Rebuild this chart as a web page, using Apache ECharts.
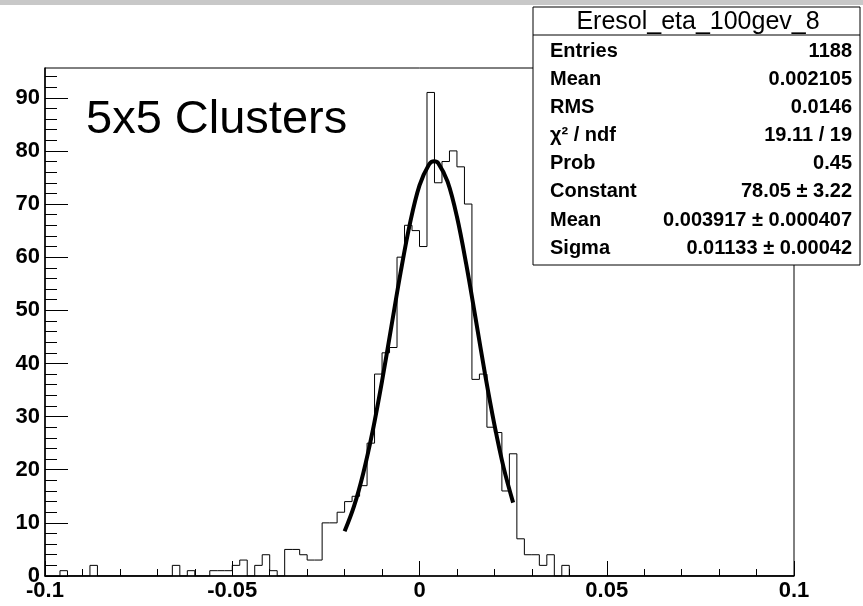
<!DOCTYPE html>
<html><head><meta charset="utf-8">
<script src="https://cdn.jsdelivr.net/npm/echarts@6/dist/echarts.min.js"></script>
<style>html,body{margin:0;padding:0;background:#fff}#c{width:863px;height:606px}</style>
</head><body><div id="c"></div>
<script>
// ---- data ----
const binLow = -0.1;
const binWidth = 0.002;
const counts = [
  0,0,1,0,0,0,2,0,0,0,
  0,0,0,0,0,0,0,2,0,1,
  0,0,1,1,1,2,3,0,2,4,
  1,0,5,5,4,3,3,10,10,12,
  14,15,17,25,38,42,43,60,66,65,
  62,91,74,78,80,77,70,37,38,28,
  27,16,23,7,4,4,2,4,0,2,
  0,0,0,0,0,0,0,0,0,0,
  0,0,0,0,0,0,0,0,0,0,
  0,0,0,0,0,0,0,0,0,0
];
const fitX = [-0.02,-0.0175,-0.015,-0.0125,-0.01,-0.0075,-0.005,-0.0025,0,0.0025,0.0039,0.005,0.0075,0.01,0.0125,0.015,0.0175,0.02,0.0225,0.025];
const fitY = [8.4,13.1,19.4,27.3,36.7,47.0,57.3,66.5,73.5,77.4,78.05,77.7,74.2,67.6,58.6,48.4,38.0,28.5,20.3,13.8];
const xTicks = [-0.1,-0.05,0,0.05,0.1];
const yMajor = [0,10,20,30,40,50,60,70,80,90];
const yMinor = [0,2,4,6,8,10,12,14,16,18,20,22,24,26,28,30,32,34,36,38,40,42,44,46,48,50,52,54,56,58,60,62,64,66,68,70,72,74,76,78,80,82,84,86,88,90,92,94];
const plotTitle = '5x5 Clusters';
const statsTitle = 'Eresol_eta_100gev_8';
const statsLabels = ['Entries','Mean','RMS','\u03c7\u00b2 / ndf','Prob','Constant','Mean','Sigma'];
const statsValues = ['1188','0.002105','0.0146','19.11 / 19','0.45','78.05 \u00b1 3.22','0.003917 \u00b1 0.000407','0.01133 \u00b1 0.00042'];

// ---- build ----
const stepPts = [];
counts.forEach((c, i) => {
  const lo = binLow + i * binWidth, hi = binLow + (i + 1) * binWidth;
  stepPts.push([lo, c], [hi, c]);
});
const fitPts = fitX.map((x, i) => [x, fitY[i]]);

const FONT = '"Liberation Sans", Arial, Helvetica, sans-serif';
const statsLeft = 533, statsTop = 7, statsW = 327, statsH = 258;
const statsGraphics = [
  {type:'rect', shape:{x:statsLeft, y:statsTop, width:statsW, height:statsH}, style:{fill:'#fff', stroke:'#000', lineWidth:1}, z:100},
  {type:'line', shape:{x1:statsLeft, y1:35, x2:statsLeft+statsW, y2:35}, style:{stroke:'#000', lineWidth:1}, z:101},
  {type:'text', style:{x:698, y:22, text:statsTitle, font:'25px '+FONT, fill:'#000', align:'center', verticalAlign:'middle'}, z:102}
];
statsLabels.forEach((l, i) => {
  const y = 51.7 + 28.05 * i;
  statsGraphics.push({type:'text', style:{x:550, y:y, text:l, font:'bold 20px '+FONT, fill:'#000', align:'left', verticalAlign:'middle'}, z:102});
  statsGraphics.push({type:'text', style:{x:852, y:y, text:statsValues[i], font:'bold 20px '+FONT, fill:'#000', align:'right', verticalAlign:'middle'}, z:102});
});

const chart = echarts.init(document.getElementById('c'), null, {renderer:'canvas'});
chart.setOption({
  animation: false,
  backgroundColor: '#fff',
  grid: {left:45, right:69, top:68, bottom:30, show:true, borderColor:'#000', borderWidth:1, backgroundColor:'#fff'},
  xAxis: {
    type:'value', min:xTicks[0], max:xTicks[xTicks.length-1], interval:0.05,
    axisLine:{show:true, onZero:false, lineStyle:{color:'#000', width:1.5}},
    axisTick:{show:true, inside:true, length:15, lineStyle:{color:'#000', width:1}},
    minorTick:{show:true, splitNumber:5, length:7, lineStyle:{color:'#000', width:1}},
    splitLine:{show:false}, minorSplitLine:{show:false},
    axisLabel:{fontSize:22, fontWeight:'bold', fontFamily:FONT, color:'#000', margin:4, formatter:v => String(+v.toFixed(3))}
  },
  yAxis: [
    {
      type:'value', min:0, max:95.6, position:'left',
      axisLine:{show:true, onZero:false, lineStyle:{color:'#000', width:1.5}},
      axisTick:{show:true, inside:true, length:23, customValues:yMajor, lineStyle:{color:'#000', width:1}},
      axisLabel:{show:true, customValues:yMajor, fontSize:22, fontWeight:'bold', fontFamily:FONT, color:'#000', margin:5},
      splitLine:{show:false}
    },
    {
      type:'value', min:0, max:95.6, position:'left', offset:0,
      axisLine:{show:false, onZero:false},
      axisTick:{show:true, inside:true, length:12, customValues:yMinor, lineStyle:{color:'#000', width:1}},
      axisLabel:{show:false},
      splitLine:{show:false}
    }
  ],
  series: [
    {type:'line', xAxisIndex:0, yAxisIndex:0, data:stepPts, showSymbol:false, symbol:'none', lineStyle:{color:'#000', width:1}, z:3},
    {type:'line', xAxisIndex:0, yAxisIndex:0, data:fitPts, showSymbol:false, symbol:'none', smooth:0.35, lineStyle:{color:'#000', width:4}, z:4}
  ],
  graphic: [
    {type:'rect', shape:{x:0, y:0, width:863, height:5}, style:{fill:'#c8c8c8'}, z:100},
    {type:'text', style:{x:86, y:120, text:plotTitle, font:'47px '+FONT, fill:'#000', align:'left', verticalAlign:'middle'}, z:100},
    ...statsGraphics
  ]
});
</script>
</body></html>
